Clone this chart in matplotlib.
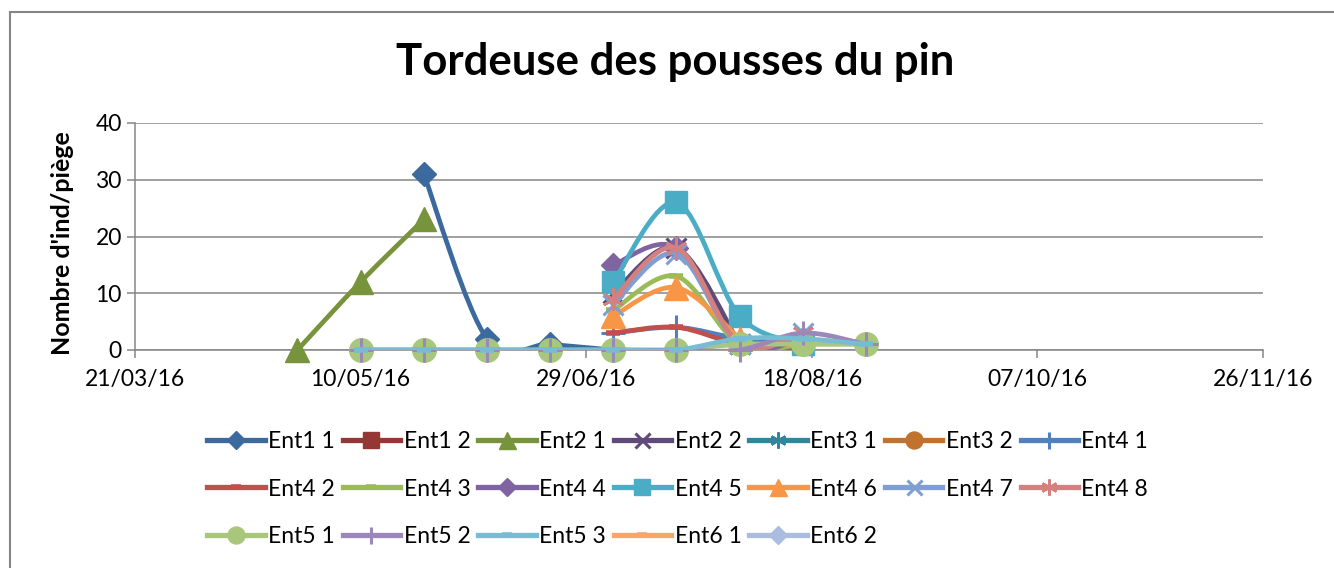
import numpy as np
import pandas as pd
import matplotlib
matplotlib.use("Agg")
import matplotlib.pyplot as plt
import matplotlib.dates as mdates
from matplotlib.path import Path
from matplotlib.patches import PathPatch
from matplotlib.lines import Line2D

plt.rcParams["font.family"] = ["Lato", "DejaVu Sans"]

# sampling dates (every two weeks)
dates = ["2016-04-26", "2016-05-10", "2016-05-24", "2016-06-07", "2016-06-21",
         "2016-07-05", "2016-07-19", "2016-08-02", "2016-08-16", "2016-08-30"]
N = None
names = ["Ent1 1", "Ent1 2", "Ent2 1", "Ent2 2", "Ent3 1", "Ent3 2", "Ent4 1",
         "Ent4 2", "Ent4 3", "Ent4 4", "Ent4 5", "Ent4 6", "Ent4 7", "Ent4 8",
         "Ent5 1", "Ent5 2", "Ent5 3", "Ent6 1", "Ent6 2"]
ent1_1 = [N, N, 31, 2, 1, 0, N, N, N, N]
ent1_2 = [N] * 10
ent2_1 = [0, 12, 23, N, N, N, N, N, N, N]
ent2_2 = [N, N, N, N, N, 10, 18, 1, N, N]
ent3_1 = [N] * 10
ent3_2 = [N] * 10
ent4_1 = [N, N, N, N, N, 3, 4, 2, 1, N]
ent4_2 = [N, N, N, N, N, 3, 4, 1, 0, N]
ent4_3 = [N, N, N, N, N, 7, 13, 1, 1, N]
ent4_4 = [N, N, N, N, N, 15, 18, 1, 2, N]
ent4_5 = [N, N, N, N, N, 12, 26, 6, 1, N]
ent4_6 = [N, N, N, N, N, 6, 11, 2, N, N]
ent4_7 = [N, N, N, N, N, 8, 17, 1, 3, N]
ent4_8 = [N, N, N, N, N, 9, 18, 1, 3, N]
ent5_1 = [N, 0, 0, 0, 0, 0, 0, 1, 1, 1]
ent5_2 = [N, 0, 0, 0, 0, 0, 0, 0, 3, 1]
ent5_3 = [N, 0, 0, 0, 0, 0, 0, 2, 2, 1]
ent6_1 = [N] * 10
ent6_2 = [N] * 10
values = [ent1_1, ent1_2, ent2_1, ent2_2, ent3_1, ent3_2, ent4_1, ent4_2, ent4_3,
          ent4_4, ent4_5, ent4_6, ent4_7, ent4_8, ent5_1, ent5_2, ent5_3, ent6_1, ent6_2]

colors = ["#3C6A9E", "#953735", "#77933C", "#604A7B", "#31859C", "#C0722E", "#4F81BD",
          "#C0504D", "#9BBB59", "#8064A2", "#4BACC6", "#F79646", "#7F9FD3", "#D3807E",
          "#A9C77C", "#9C87BA", "#78BCD4", "#F9A56A", "#AABDE0"]
star = (6, 2, 0)
mk = ["D", "s", "^", "x", star, "o", "+", "_", "_"] * 2 + ["D"]
ms = {"D": 12.5, "s": 16, "^": 17, "x": 15, "*": 16, "o": 17, "+": 17, "_": 10}

x_all = mdates.date2num(pd.to_datetime(dates))


def smooth(xs, ys):
    # Excel-like smoothed line: Catmull-Rom as cubic Bezier
    p = np.column_stack([xs, ys])
    n = len(p)
    verts, codes = [p[0]], [Path.MOVETO]
    for i in range(n - 1):
        p0 = p[i - 1] if i > 0 else p[i]
        p3 = p[i + 2] if i + 2 < n else p[i + 1]
        verts += [p[i] + (p[i + 1] - p0) / 6, p[i + 1] - (p3 - p[i]) / 6, p[i + 1]]
        codes += [Path.CURVE4] * 3
    return Path(verts, codes)


fig = plt.figure(figsize=(13.34, 5.68), dpi=100)
ax = fig.add_axes([135 / 1334, 1 - 350 / 568, 1128 / 1334, 227 / 568])

handles = []
for i, (name, vals, c, m) in enumerate(zip(names, values, colors, mk)):
    key = "*" if m == star else m
    size = ms[key]
    mew = 2.2 if m in ("x", "+") else (1.8 if m == star else (4 if m == "_" else 1))
    v = np.array([np.nan if a is None else a for a in vals], dtype=float)
    ok = ~np.isnan(v)
    if ok.sum() > 1:
        ax.add_patch(PathPatch(smooth(x_all[ok], v[ok]), fill=False, ec=c, lw=3.4,
                               capstyle="round", joinstyle="round", zorder=3 + i * 2))
    if ok.any():
        ax.plot(x_all[ok], v[ok], ls="none", marker=m, ms=size, color=c, mec=c,
                mew=mew, zorder=4 + i * 2, clip_on=False)
    handles.append(Line2D([], [], color=c, lw=3.8, marker=m, ms=size * 0.72, mec=c,
                          mew=mew))

ax.set_xlim(mdates.date2num(pd.Timestamp("2016-03-21")), mdates.date2num(pd.Timestamp("2016-11-26")))
ax.set_ylim(0, 40)
ticks = mdates.date2num(pd.date_range("2016-03-21", "2016-11-26", freq="50D"))
ax.set_xticks(ticks)
ax.xaxis.set_major_formatter(mdates.DateFormatter("%d/%m/%y"))
ax.set_yticks([0, 10, 20, 30, 40])
ax.grid(axis="y", color="#868686", lw=1.1)
ax.set_axisbelow(True)
for s in ("top", "right"):
    ax.spines[s].set_visible(False)
for s in ("left", "bottom"):
    ax.spines[s].set_color("#868686")
    ax.spines[s].set_linewidth(1.1)
ax.tick_params(axis="both", colors="#868686", labelcolor="black", labelsize=16.5,
               length=6, width=1.1)
ax.tick_params(axis="x", pad=8)

fig.text(0.506, 1 - 62 / 568, "Tordeuse des pousses du pin", ha="center", va="center",
         fontsize=31.5, fontweight="bold")
fig.text(62 / 1334, 1 - 243 / 568, "Nombre d'ind/piège", rotation=90, ha="center",
         va="center", fontsize=18, fontweight="bold")

# legend in row-major order like Excel
order = [r * 7 + c for c in range(7) for r in range(3) if r * 7 + c < len(names)]
fig.legend([handles[k] for k in order], [names[k] for k in order], ncol=7,
           loc="center", bbox_to_anchor=(0.508, 1 - 489 / 568), frameon=False,
           fontsize=16.5, handlelength=2.5, handletextpad=0.15, columnspacing=0.35,
           labelspacing=1.15)

# chart area border (left and top visible)
fig.add_artist(Line2D([9.5 / 1334, 9.5 / 1334], [0, 1 - 12 / 568], color="#868686", lw=1.5))
fig.add_artist(Line2D([9.5 / 1334, 1], [1 - 12 / 568, 1 - 12 / 568], color="#868686", lw=1.5))

fig.savefig("out.png", dpi=100)
